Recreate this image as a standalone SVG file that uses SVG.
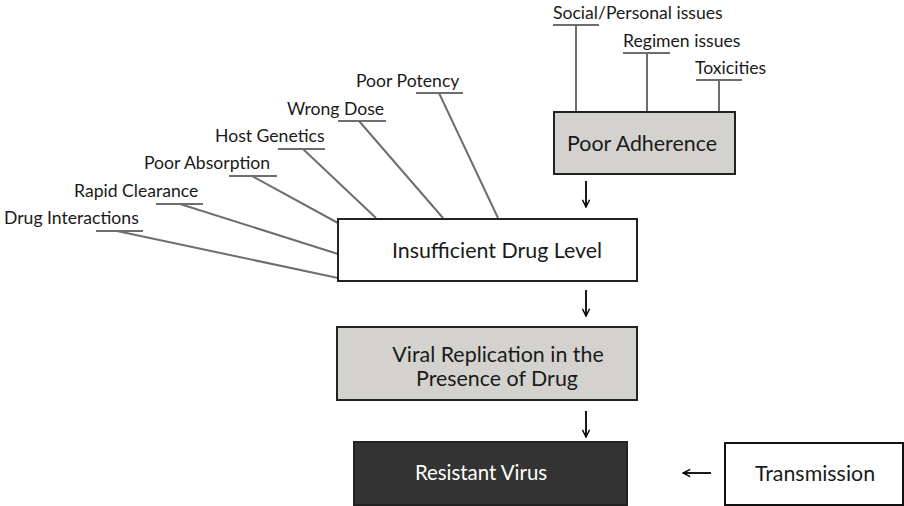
<svg xmlns="http://www.w3.org/2000/svg" width="904" height="506" viewBox="0 0 904 506">
<defs>
<style>
.lbl{font-family:Lato,"Liberation Sans",sans-serif;font-size:17.6px;fill:#1a1a1a}
.box{font-family:Lato,"Liberation Sans",sans-serif;font-size:21.4px;fill:#1a1a1a;text-anchor:middle}
.lead{stroke:#6e6e6e;stroke-width:2;fill:none}
.arr{stroke:#000;stroke-width:1.8;fill:none}
</style>
<marker id="ah" viewBox="0 0 10 10" refX="9" refY="5" markerWidth="9" markerHeight="9" orient="auto" markerUnits="userSpaceOnUse">
<path d="M1,1 L9,5 L1,9" fill="none" stroke="#000" stroke-width="1.6"/>
</marker>
</defs>
<rect width="904" height="506" fill="#fff"/>
<g id="connectors">
<path class="lead" d="M553,25H599M576,25V112"/>
<path class="lead" d="M623,53H670M647,53V112"/>
<path class="lead" d="M696,80H742M719,80V112"/>
<path class="lead" d="M416,93H463M439,93L498,218"/>
<path class="lead" d="M338,121H386M359,121L443,218"/>
<path class="lead" d="M278,149H325M303,149L376,218"/>
<path class="lead" d="M229,176H277M252,176L338,223"/>
<path class="lead" d="M156,204H203M180,204L338,254"/>
<path class="lead" d="M96,231H143M117,231L338,278"/>
<line class="arr" x1="586" y1="181" x2="586" y2="207" marker-end="url(#ah)"/>
<line class="arr" x1="586" y1="290" x2="586" y2="316" marker-end="url(#ah)"/>
<line class="arr" x1="586" y1="411" x2="586" y2="437" marker-end="url(#ah)"/>
<line class="arr" x1="711" y1="473" x2="683" y2="473" marker-end="url(#ah)"/>
</g>
<g id="labels">
<text class="lbl" x="553" y="19">Social/Personal issues</text>
<text class="lbl" x="623" y="47">Regimen issues</text>
<text class="lbl" x="695" y="74">Toxicities</text>
<text class="lbl" x="356" y="87">Poor Potency</text>
<text class="lbl" x="287" y="115">Wrong Dose</text>
<text class="lbl" x="215" y="142">Host Genetics</text>
<text class="lbl" x="144" y="169">Poor Absorption</text>
<text class="lbl" x="74" y="197">Rapid Clearance</text>
<text class="lbl" x="4" y="224">Drug Interactions</text>
</g>
<g id="poor-adherence">
<rect x="554" y="112" width="181" height="62" fill="#d4d2ce" stroke="#222" stroke-width="2"/>
<text class="box" x="642" y="151">Poor Adherence</text>
</g>
<g id="insufficient-drug-level">
<rect x="338" y="219" width="299" height="62" fill="#fff" stroke="#222" stroke-width="2"/>
<text class="box" x="497" y="258">Insufficient Drug Level</text>
</g>
<g id="viral-replication">
<rect x="337" y="327" width="300" height="73" fill="#d4d2ce" stroke="#222" stroke-width="2"/>
<text class="box" x="498" y="362">Viral Replication in the</text>
<text class="box" x="497" y="386">Presence of Drug</text>
</g>
<g id="resistant-virus">
<rect x="354" y="442" width="273" height="63" fill="#333333" stroke="#222" stroke-width="2"/>
<text class="box" x="481" y="480" style="fill:#fff;font-size:20.4px">Resistant Virus</text>
</g>
<g id="transmission">
<rect x="725" y="443" width="178" height="62" fill="#fff" stroke="#111" stroke-width="2"/>
<text class="box" x="815" y="481">Transmission</text>
</g>
</svg>
